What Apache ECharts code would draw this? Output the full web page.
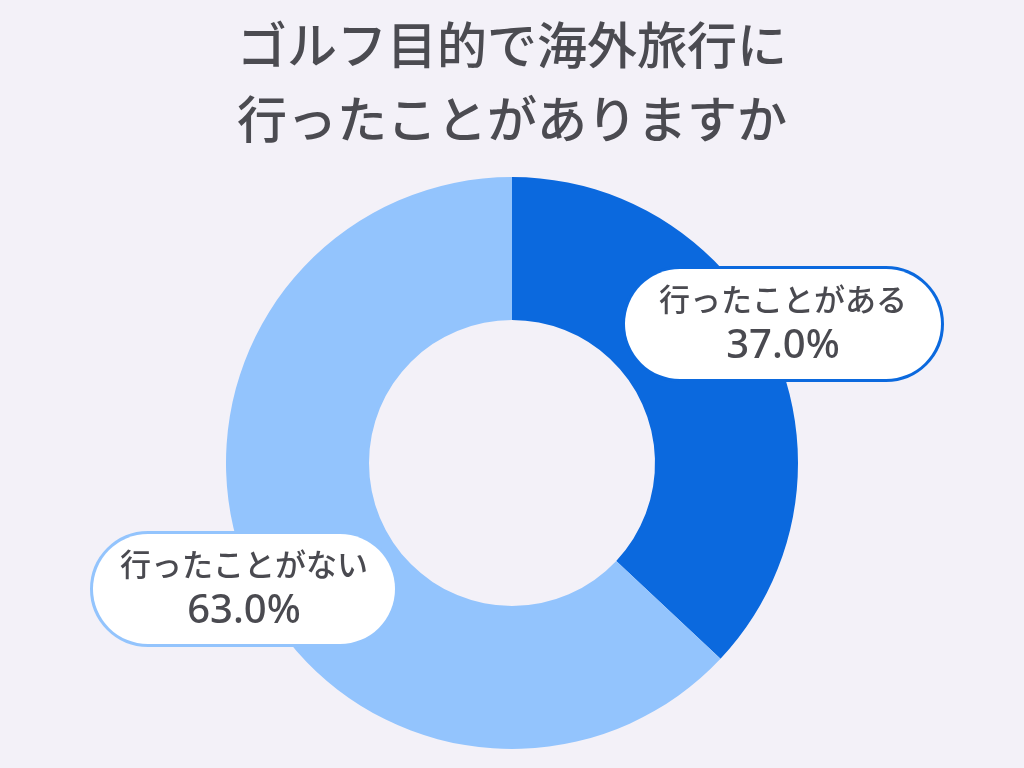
<!DOCTYPE html>
<html>
<head>
<meta charset="utf-8">
<script src="https://cdn.jsdelivr.net/npm/echarts@6/dist/echarts.min.js"></script>
<style>
  html, body { margin: 0; padding: 0; background: #f3f1f8; }
  #chart { width: 1024px; height: 768px; }
</style>
</head>
<body>
<div id="chart"></div>
<script>
  // data
  var titleLines = ['ゴルフ目的で海外旅行に', '行ったことがありますか'];
  var categories = ['行ったことがある', '行ったことがない'];
  var values = [37.0, 63.0];
  var colors = ['#0b69de', '#93c4fd'];
  // where each label box sits (center point) and its side padding
  var labelCenters = [[786, 327], [247, 592]];
  var labelSidePad = [34, 27];

  var chart = echarts.init(document.getElementById('chart'));

  var pieData = categories.map(function (name, i) {
    return {
      name: name,
      value: values[i],
      itemStyle: { color: colors[i] },
      label: {
        borderColor: colors[i],
        padding: [8, labelSidePad[i], 6, labelSidePad[i]]
      }
    };
  });

  var option = {
    backgroundColor: '#f3f1f8',
    title: {
      text: titleLines.join('\n'),
      left: 'center',
      top: 3,
      textStyle: {
        fontFamily: 'Noto Sans CJK JP',
        fontSize: 50,
        fontWeight: 500,
        color: '#4b4b51',
        lineHeight: 74
      }
    },
    series: [
      {
        type: 'pie',
        center: [512, 463],
        radius: [143, 286],
        startAngle: 90,
        clockwise: true,
        silent: true,
        data: pieData,
        label: {
          show: true,
          position: 'inside',
          backgroundColor: '#ffffff',
          borderWidth: 3,
          borderRadius: 56,
          formatter: function (p) {
            return '{a|' + p.name + '}\n{b|' + p.value.toFixed(1) + '%}';
          },
          rich: {
            a: {
              fontFamily: 'Noto Sans CJK JP',
              fontSize: 31,
              fontWeight: 500,
              color: '#4a4a50',
              lineHeight: 44,
              align: 'center'
            },
            b: {
              fontFamily: 'Noto Sans',
              fontSize: 40,
              fontWeight: 500,
              color: '#4a4a50',
              lineHeight: 52,
              align: 'center'
            }
          }
        },
        labelLine: { show: false },
        labelLayout: function (params) {
          var r = params.labelRect;
          var t = labelCenters[params.dataIndex];
          return { x: t[0] - r.width / 2, y: t[1] - r.height / 2, align: 'left', verticalAlign: 'top' };
        }
      }
    ]
  };

  chart.setOption(option);
</script>
</body>
</html>
